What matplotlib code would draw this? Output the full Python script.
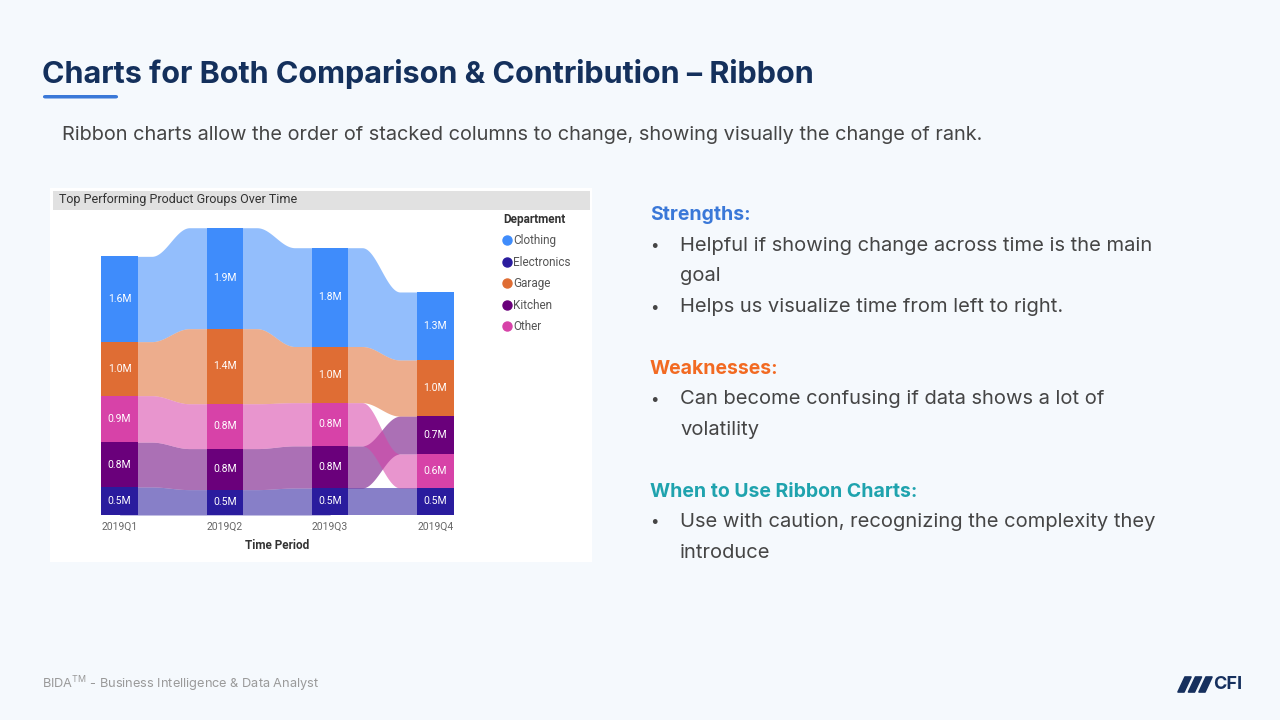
import numpy as np
import matplotlib.pyplot as plt
from matplotlib.patches import Rectangle, FancyBboxPatch, Polygon
from matplotlib.lines import Line2D

# data (values in millions)
quarters = ["2019Q1", "2019Q2", "2019Q3", "2019Q4"]
departments = ["Clothing", "Electronics", "Garage", "Kitchen", "Other"]
clothing = [1.58, 1.87, 1.83, 1.26]
electronics = [0.52, 0.47, 0.50, 0.50]
garage = [1.00, 1.39, 1.04, 1.04]
kitchen = [0.83, 0.76, 0.78, 0.70]
other = [0.86, 0.83, 0.80, 0.63]
dept_colors = ["#3F8CFB", "#2A1C9E", "#DF6D34", "#6A007B", "#D742A8"]

W, H = 1280, 720
BG = "#F5F9FD"
NAVY = "#14305C"
BODY = "#454545"
FONT = ["Inter", "DejaVu Sans"]
CFONT = ["Roboto", "DejaVu Sans"]


def fx(x):
    return x / W


def fy(y):
    return 1 - y / H


fig = plt.figure(figsize=(12.8, 7.2), dpi=100, facecolor=BG)

# ── slide header ──────────────────────────────────────────────
fig.text(fx(42), fy(74), "Charts for Both Comparison & Contribution \u2013 Ribbon",
         fontsize=22, fontweight="bold", color=NAVY, family=FONT, va="center")
fig.patches.append(FancyBboxPatch((fx(43), fy(98.5)), fx(75), 3.5 / H,
                                  boxstyle="round,pad=0,rounding_size=0.002",
                                  transform=fig.transFigure, fc="#3A78D8", ec="none"))
fig.text(fx(62), fy(135), "Ribbon charts allow the order of stacked columns to change, "
         "showing visually the change of rank.",
         fontsize=14.35, color=BODY, family=FONT, va="center")

# ── chart panel ───────────────────────────────────────────────
fig.patches.append(Rectangle((fx(50), fy(562)), fx(542), 374 / H, transform=fig.transFigure,
                             fc="white", ec="none", zorder=-2))
fig.patches.append(Rectangle((fx(53), fy(210)), fx(537), 19 / H, transform=fig.transFigure,
                             fc="#E1E1E1", ec="none", zorder=-1))
fig.text(fx(59), fy(199.5), "Top Performing Product Groups Over Time", fontsize=9,
         color="#333333", family=CFONT, va="center")

ax = fig.add_axes([fx(67), fy(515), 421 / W, 297 / H])
ax.set_facecolor("none")
ax.set_xlim(-0.5, 3.5)
ax.set_ylim(0, 5.5)

vals = np.array([clothing, electronics, garage, kitchen, other])
bottoms = np.zeros_like(vals)
for j in range(len(quarters)):
    cum = 0.0
    for i in np.argsort(vals[:, j]):
        bottoms[i, j] = cum
        cum += vals[i, j]

w = 0.345
x = np.arange(len(quarters))

# ribbons between columns (run under the bars so no seam shows)
for i, c in enumerate(dept_colors):
    for j in range(len(quarters) - 1):
        x0, x1 = j + w / 2, j + 1 - w / 2
        xs = np.linspace(j, j + 1, 160)
        s = np.clip(((xs - x0) / (x1 - x0) - 0.2) / 0.55, 0, 1)
        s = (1 - np.cos(np.pi * s)) / 2
        b0, b1 = bottoms[i, j], bottoms[i, j + 1]
        t0, t1 = b0 + vals[i, j], b1 + vals[i, j + 1]
        ax.fill_between(xs, b0 + (b1 - b0) * s, t0 + (t1 - t0) * s,
                        color=c, alpha=0.56, lw=0, zorder=2)

# columns + labels
for i, c in enumerate(dept_colors):
    ax.bar(x, vals[i], w, bottom=bottoms[i], color=c, lw=0, zorder=3)
    for j in range(len(quarters)):
        ax.text(j, bottoms[i, j] + vals[i, j] / 2, f"{vals[i, j]:.1f}M",
                ha="center", va="center", color="white", fontsize=7.5,
                family=CFONT, zorder=4)

for sp in ax.spines.values():
    sp.set_visible(False)
ax.set_yticks([])
ax.set_xticks(x)
ax.set_xticklabels(quarters, fontsize=7.5, color="#666666", family=CFONT)
ax.tick_params(axis="x", length=0, pad=5)
ax.set_xlabel("Time Period", fontsize=8.5, fontweight="bold", color="#333333",
              family=CFONT, labelpad=5)

handles = [Line2D([], [], marker="o", ls="none", ms=6.5, mfc=c, mec=c) for c in dept_colors]
leg = ax.legend(handles, departments, loc="upper left", bbox_to_anchor=(fx(497), fy(207)),
                bbox_transform=fig.transFigure, frameon=False, title="Department",
                alignment="left", handlelength=0.7, handletextpad=0.15,
                labelspacing=0.72, borderpad=0, prop={"family": CFONT, "size": 8.5},
                labelcolor="#555555")
leg.get_title().set_fontweight("bold")
leg.get_title().set_fontsize(8.5)
leg.get_title().set_color("#333333")
leg.get_title().set_family(CFONT)

# ── right-hand notes ──────────────────────────────────────────
headings = [
    (215, "Strengths:", "#3A78D8"),
    (369, "Weaknesses:", "#F26A22"),
    (492, "When to Use Ribbon Charts:", "#1FA3AE"),
]
for y, t, c in headings:
    fig.text(fx(650), fy(y), t, fontsize=14, fontweight="bold", color=c,
             family=FONT, va="center")

for y in (246, 307, 399, 522):
    fig.text(fx(650), fy(y), "\u2022", fontsize=11, color=BODY, family=FONT, va="center")

lines = [
    (246, "Helpful if showing change across time is the main"),
    (276, "goal"),
    (307, "Helps us visualize time from left to right."),
    (399, "Can become confusing if data shows a lot of"),
    (430, "volatility"),
    (522, "Use with caution, recognizing the complexity they"),
    (553, "introduce"),
]
for y, t in lines:
    fig.text(fx(680), fy(y), t, fontsize=14.5, color=BODY, family=FONT, va="center")

# ── footer ────────────────────────────────────────────────────
fig.text(fx(42), fy(684), "BIDA$^{\\mathregular{TM}}$ - Business Intelligence & Data Analyst",
         fontsize=9.2, color="#9A9A9A", family=FONT, va="center")

for k in range(3):
    x0 = 1178 + k * 10.5
    pts = [(x0, 692), (x0 + 6, 692), (x0 + 13, 677), (x0 + 7, 677)]
    fig.patches.append(Polygon([(fx(px), fy(py)) for px, py in pts], closed=True,
                               transform=fig.transFigure, fc="#16305E", ec="#16305E",
                               lw=1.2, joinstyle="round"))
fig.text(fx(1213), fy(684.5), "CFI", fontsize=13, fontweight="bold", color="#16305E",
         family=FONT, va="center")

fig.savefig("out.png", dpi=100, facecolor=BG)
